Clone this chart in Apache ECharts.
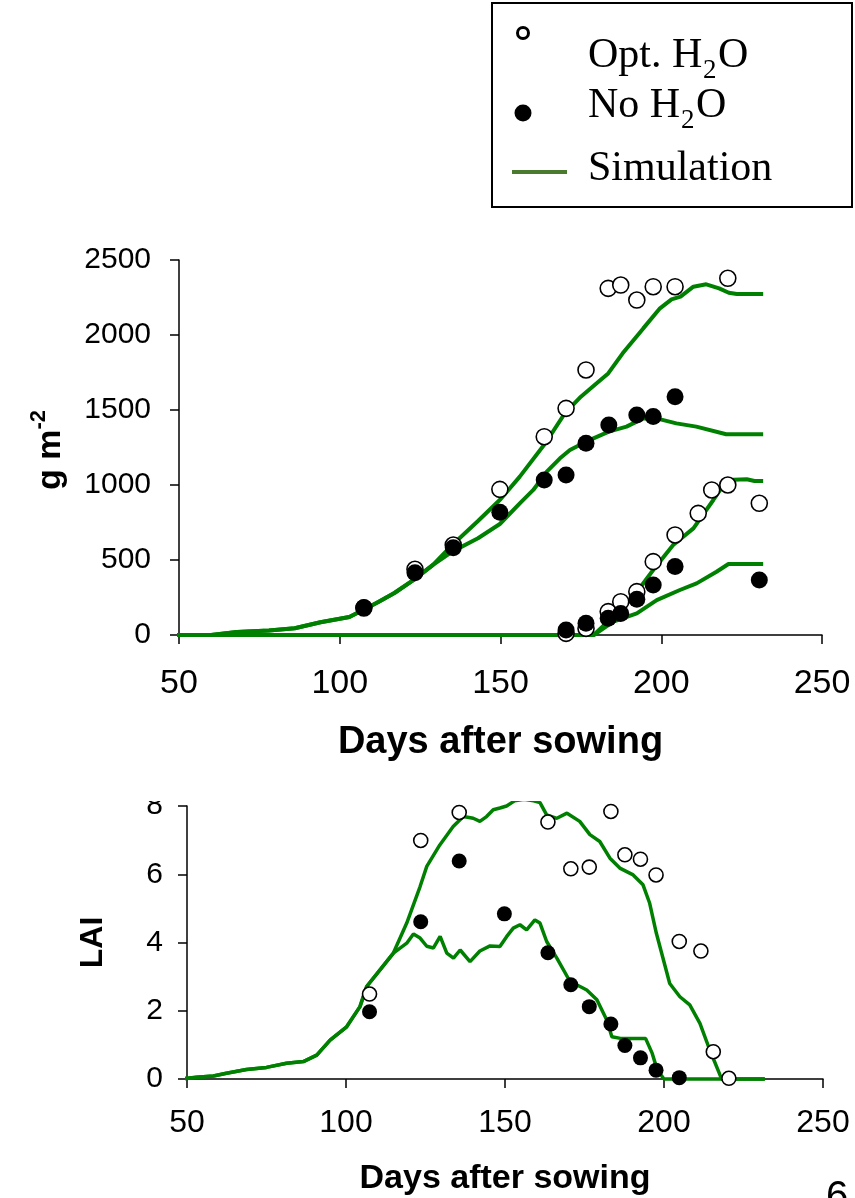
<!DOCTYPE html>
<html>
<head>
<meta charset="utf-8">
<script src="https://cdn.jsdelivr.net/npm/echarts@6/dist/echarts.min.js"></script>
<style>html,body{margin:0;padding:0;background:#fff;}#c{width:855px;height:1198px;}</style>
</head>
<body>
<div id="c"></div>
<script>
// ---------- Data ----------
const xTicks = [50, 100, 150, 200, 250];
const bioTicks = [0, 500, 1000, 1500, 2000, 2500];
const laiTicks = [0, 2, 4, 6, 8];

// Biomass (g m-2) observations
const optTotalDays = [107.5, 123.4, 135.3, 149.8, 163.6, 170.4, 176.6, 183.5, 187.4, 192.4, 197.5, 204.3, 220.7];
const optTotalVals = [180, 438, 600, 971, 1322, 1511, 1767, 2311, 2333, 2233, 2322, 2322, 2378];
const noTotalDays = [107.5, 123.4, 135.3, 149.8, 163.6, 170.4, 176.6, 183.7, 192.4, 197.5, 204.3];
const noTotalVals = [184, 415, 582, 818, 1033, 1067, 1278, 1400, 1467, 1456, 1589];
const optGrainDays = [170.4, 176.6, 183.5, 187.4, 192.4, 197.5, 204.3, 211.5, 215.7, 220.7, 230.5];
const optGrainVals = [11, 44, 156, 222, 289, 489, 667, 811, 967, 1000, 878];
const noGrainDays = [170.4, 176.6, 183.5, 187.4, 192.4, 197.5, 204.3, 230.5];
const noGrainVals = [33, 78, 111, 144, 238, 333, 456, 367];

// Biomass simulations [day, g m-2]
const simOptTotal = [[47,0],[60,0],[68,20],[78,30],[86,45],[94,85],[103,120],[108,175],[112,220],[117,280],[123,367],[129,467],[135,600],[143,760],[150,905],[156,1056],[164,1280],[170,1478],[175,1589],[180,1680],[183.5,1744],[188,1878],[194.4,2044],[199.6,2178],[203.2,2238],[206,2256],[210,2322],[214,2338],[218,2311],[221,2282],[223.5,2273],[231.7,2273]];
const simNoTotal = [[47,0],[60,0],[68,20],[78,30],[86,45],[94,85],[103,120],[108,175],[112,220],[117,280],[123,367],[129,467],[135,556],[143,645],[149.8,740],[156,878],[160.2,967],[164.4,1089],[168.5,1178],[171.6,1233],[176.6,1289],[183.7,1356],[189.2,1389],[194.4,1444],[198.5,1444],[204.7,1411],[210.9,1389],[220.2,1338],[231.7,1338]];
const simOptGrain = [[47,0],[179,0],[185,122],[191.3,256],[197.5,433],[203.7,600],[210,711],[216.2,900],[220.4,1033],[226.6,1038],[229,1027],[231.7,1027]];
const simNoGrain = [[47,0],[179,0],[185.1,89],[192.4,144],[198.6,233],[205.8,300],[211,344],[217.2,422],[220.9,473],[231.7,473]];

// LAI observations
const optLaiDays = [107.4, 123.5, 135.6, 163.5, 170.7, 176.5, 183.3, 187.7, 192.6, 197.5, 204.8, 211.6, 215.5, 220.4];
const optLaiVals = [2.49, 6.99, 7.81, 7.53, 6.16, 6.21, 7.84, 6.57, 6.44, 5.98, 4.03, 3.75, 0.80, 0.02];
const noLaiDays = [107.4, 123.5, 135.6, 149.8, 163.5, 170.7, 176.5, 183.3, 187.7, 192.6, 197.5, 204.8];
const noLaiVals = [1.97, 4.61, 6.39, 4.84, 3.70, 2.76, 2.12, 1.61, 0.98, 0.62, 0.26, 0.04];

// LAI simulations [day, LAI]
const simOptLai = [[47.4,0],[53,0.05],[58.3,0.09],[62.4,0.17],[68.7,0.28],[75,0.34],[81.3,0.46],[86.6,0.51],[90.8,0.7],[95,1.14],[100.2,1.53],[104.4,2.12],[106.5,2.71],[110.7,3.2],[114.9,3.69],[119.1,4.57],[123.3,5.64],[125.4,6.23],[129.5,6.86],[133.7,7.4],[136.9,7.69],[140,7.64],[142.1,7.55],[144.2,7.69],[146.3,7.89],[148.4,7.94],[150.5,8.0],[153,8.15],[156,8.2],[159,8.15],[161,8.1],[163.1,7.74],[166.3,7.64],[169.5,7.79],[173.5,7.55],[176.7,7.16],[179.8,6.96],[183,6.47],[186.1,6.18],[190.3,5.98],[193.4,5.69],[195.5,5.15],[197.6,4.27],[201.8,2.8],[205,2.41],[208.1,2.17],[211.3,1.63],[214.4,0.85],[217.6,0.12],[218.2,0],[231.7,0]];
const simNoLai = [[47.4,0],[53,0.05],[58.3,0.09],[62.4,0.17],[68.7,0.28],[75,0.34],[81.3,0.46],[86.6,0.51],[90.8,0.7],[95,1.14],[100.2,1.53],[104.4,2.12],[106.5,2.71],[110.7,3.2],[114.9,3.69],[119.1,3.98],[121.2,4.25],[123.3,4.13],[125.4,3.89],[127.5,3.84],[129.6,4.18],[131.7,3.69],[133.8,3.54],[135.9,3.78],[139,3.44],[142.1,3.75],[145.3,3.9],[148.4,3.88],[150.5,4.17],[152.6,4.42],[154.7,4.52],[156.8,4.37],[159.4,4.66],[161,4.57],[163.1,4.03],[166.3,3.54],[170.5,2.85],[173.6,2.71],[175.7,2.61],[178.9,2.32],[182,1.73],[183.6,1.24],[186.3,1.19],[194.2,1.19],[196.3,0.75],[197.9,0.26],[200,0],[231.7,0]];

// ---------- Chart ----------
const zip = (a, b) => a.map((d, i) => [d, b[i]]);
const GREEN = '#008000';
const SANS = "Arial, 'Liberation Sans', sans-serif";
const SERIF = "'Times New Roman', 'Liberation Serif', serif";

function simLine(data, xi, width) {
  return { type: 'line', xAxisIndex: xi, yAxisIndex: xi, data: data, showSymbol: false, symbol: 'none',
    clip: false, lineStyle: { color: GREEN, width: width }, z: 2, animation: false, silent: true };
}
function pts(data, xi, open, size) {
  return { type: 'scatter', xAxisIndex: xi, yAxisIndex: xi, data: data, symbol: 'circle', symbolSize: size,
    itemStyle: open ? { color: '#fff', borderColor: '#000', borderWidth: 1.6, opacity: 1 } : { color: '#000', borderColor: '#000', borderWidth: 0, opacity: 1 },
    z: open ? 3 : 4, animation: false, silent: true };
}
function xAxisCfg(gi, fs, margin, nameFs, gap) {
  return { type: 'value', gridIndex: gi, min: xTicks[0], max: xTicks[xTicks.length - 1], interval: 50,
    axisLine: { show: true, onZero: false, lineStyle: { color: '#000', width: 1.5 } },
    axisTick: { show: true, inside: false, length: 9, lineStyle: { color: '#000', width: 1.5 } },
    splitLine: { show: false },
    axisLabel: { color: '#000', fontSize: fs, fontFamily: SANS, margin: margin, formatter: v => String(v) },
    name: 'Days after sowing', nameLocation: 'middle', nameGap: gap,
    nameTextStyle: { color: '#000', fontSize: nameFs, fontWeight: 'bold', fontFamily: SANS } };
}
function yAxisCfg(gi, ticks, interval, fs, margin) {
  return { type: 'value', gridIndex: gi, min: ticks[0], max: ticks[ticks.length - 1], interval: interval,
    axisLine: { show: true, onZero: false, lineStyle: { color: '#000', width: 1.5 } },
    axisTick: { show: true, inside: false, length: 9, lineStyle: { color: '#000', width: 1.5 } },
    splitLine: { show: false },
    axisLabel: { color: '#000', fontSize: fs, fontFamily: SANS, margin: margin, formatter: v => String(v) } };
}

const yTop = yAxisCfg(0, bioTicks, 500, 30, 28);

const yBot = yAxisCfg(1, laiTicks, 2, 30, 24);
yBot.name = 'LAI';
yBot.nameLocation = 'middle';
yBot.nameGap = 78;
yBot.nameRotate = 90;
yBot.nameTextStyle = { color: '#000', fontSize: 32, fontWeight: 'bold', fontFamily: SANS };

const option = {
  backgroundColor: '#fff',
  animation: false,
  grid: [
    { left: 179, top: 260, width: 643, height: 375, containLabel: false },
    { left: 187, top: 806, width: 636, height: 273, containLabel: false }
  ],
  xAxis: [xAxisCfg(0, 34, 32, 38, 89), xAxisCfg(1, 32, 28, 34, 83)],
  yAxis: [yTop, yBot],
  series: [
    simLine(simOptTotal, 0, 4), simLine(simNoTotal, 0, 4), simLine(simOptGrain, 0, 4), simLine(simNoGrain, 0, 4),
    pts(zip(optTotalDays, optTotalVals), 0, true, 16), pts(zip(noTotalDays, noTotalVals), 0, false, 17),
    pts(zip(optGrainDays, optGrainVals), 0, true, 16), pts(zip(noGrainDays, noGrainVals), 0, false, 17),
    simLine(simOptLai, 1, 3.5), simLine(simNoLai, 1, 3.5),
    pts(zip(optLaiDays, optLaiVals), 1, true, 14), pts(zip(noLaiDays, noLaiVals), 1, false, 15)
  ],
  graphic: [
    // y-axis title of upper panel (with superscript)
    { type: 'text', z: 101, x: 48, y: 450, rotation: Math.PI / 2,
      style: { text: '{b|g m}{s|-2}', align: 'center', verticalAlign: 'middle', fill: '#000',
        rich: {
          b: { fontSize: 34, fontWeight: 'bold', fontFamily: SANS, fill: '#000', lineHeight: 40, verticalAlign: 'bottom' },
          s: { fontSize: 22, fontWeight: 'bold', fontFamily: SANS, fill: '#000', lineHeight: 22, verticalAlign: 'top' } } } },
    // crop mask above lower panel
    { type: 'rect', z: 100, shape: { x: 120, y: 775, width: 735, height: 26 }, style: { fill: '#fff' } },
    // legend box
    { type: 'rect', z: 100, shape: { x: 492, y: 3, width: 360, height: 204 }, style: { fill: '#fff', stroke: '#000', lineWidth: 2 } },
    { type: 'circle', z: 101, shape: { cx: 523, cy: 33, r: 5.5 }, style: { fill: '#fff', stroke: '#000', lineWidth: 3 } },
    { type: 'circle', z: 101, shape: { cx: 523, cy: 113, r: 8.5 }, style: { fill: '#000' } },
    { type: 'line', z: 101, shape: { x1: 512, y1: 172, x2: 567, y2: 172 }, style: { stroke: '#4a7a2e', lineWidth: 4 } },
    { type: 'text', z: 101, style: { text: 'Opt. H', x: 588, y: 56, font: '42px ' + SERIF, fill: '#000', verticalAlign: 'middle' } },
    { type: 'text', z: 101, style: { text: '2', x: 703, y: 71, font: '27px ' + SERIF, fill: '#000', verticalAlign: 'middle' } },
    { type: 'text', z: 101, style: { text: 'O', x: 718, y: 56, font: '42px ' + SERIF, fill: '#000', verticalAlign: 'middle' } },
    { type: 'text', z: 101, style: { text: 'No H', x: 588, y: 106, font: '42px ' + SERIF, fill: '#000', verticalAlign: 'middle' } },
    { type: 'text', z: 101, style: { text: '2', x: 681, y: 121, font: '27px ' + SERIF, fill: '#000', verticalAlign: 'middle' } },
    { type: 'text', z: 101, style: { text: 'O', x: 696, y: 106, font: '42px ' + SERIF, fill: '#000', verticalAlign: 'middle' } },
    { type: 'text', z: 101, style: { text: 'Simulation', x: 588, y: 169, font: '42px ' + SERIF, fill: '#000', verticalAlign: 'middle' } },
    // page number
    { type: 'text', z: 101, style: { text: '6', x: 826, y: 1178, font: '40px ' + SANS, fill: '#000', verticalAlign: 'top' } }
  ]
};

const chart = echarts.init(document.getElementById('c'), null, { renderer: 'canvas', width: 855, height: 1198 });
chart.setOption(option);
</script>
</body>
</html>
